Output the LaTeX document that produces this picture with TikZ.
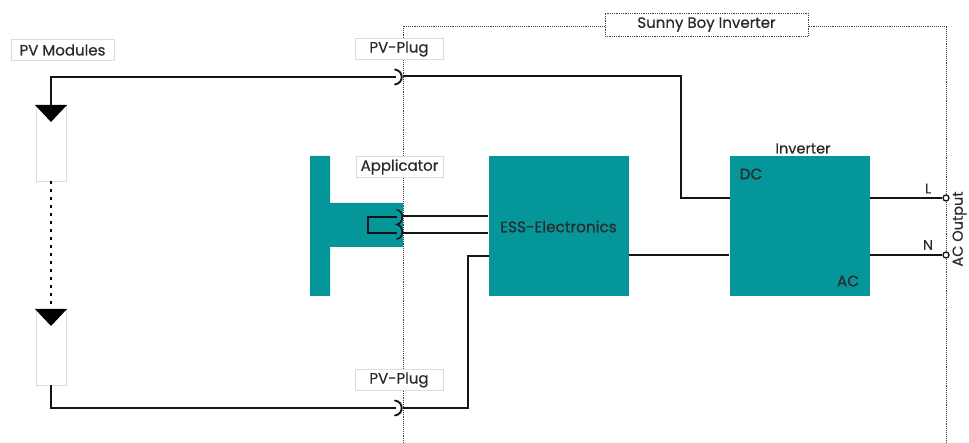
\documentclass[tikz,border=0pt]{standalone}
\usepackage{fontspec}
\setmainfont{Poppins}[RawFeature={embolden=0.5}]
\definecolor{teal1}{HTML}{05969A}
\definecolor{wire}{HTML}{151515}
\definecolor{lab}{HTML}{2A2A2A}
\definecolor{edge}{HTML}{DCDCDC}
\tikzset{
  x=1pt,y=-1pt,
  tag/.style={draw=edge,fill=white,line width=0.8pt,text=lab,inner sep=0pt,minimum height=21pt,font=\fontsize{15}{17}\selectfont},
  block/.style={fill=teal1,inner sep=0pt,text=lab,font=\fontsize{15.3}{17}\selectfont},
  plain/.style={inner sep=0pt,text=lab,font=\fontsize{14.5}{16}\selectfont},
  wireline/.style={draw=wire,line width=2pt},
  thinwire/.style={draw=wire,line width=1.7pt},
  boundary/.style={draw=black!75,line width=0.9pt,densely dotted},
  module/.style={draw=edge,fill=white,line width=0.8pt,inner sep=0pt,minimum width=30pt,minimum height=76pt},
  plugarc/.style={draw=wire,line width=1.9pt,line cap=round},
  term/.style={circle,draw=wire,fill=white,line width=1.3pt,inner sep=0pt,minimum size=6pt}
}
\begin{document}
\begin{tikzpicture}
\useasboundingbox (0,0) rectangle (969,443);
% enclosure boundary
\coordinate (bBL) at (403,443);
\coordinate (bTL) at (403,26);
\coordinate (bTR) at (946,26);
\coordinate (bBR) at (946,443);
% applicator body
\fill[teal1] (310,156) -- (330,156) -- (330,203) -- (403,203) -- (403,247) -- (330,247) -- (330,296) -- (310,296) -- cycle;
\draw[boundary] (bBL) -- (bTL) -- (bTR) -- (bBR);
\node[draw=black!75,densely dotted,line width=0.8pt,fill=white,inner sep=0pt,minimum width=203pt,minimum height=23pt,text=lab,font=\fontsize{15}{17}\selectfont] (sunny) at (706.5,24.5) {Sunny Boy Inverter};
% labels
\node[tag,minimum width=103pt] (pvm) at (62.5,50) {PV Modules};
\node[tag,minimum width=88pt] (plugT) at (399,49) {PV-Plug};
\node[tag,minimum width=88pt] (plugB) at (399,380) {PV-Plug};
\node[tag,minimum width=87pt] (appl) at (399.5,167) {Applicator};
% modules
\node[module] (m1) at (51,143) {};
\node[module] (m2) at (51,347) {};
\fill[black] (35,105) -- (67,105) -- (51,122) -- cycle;
\fill[black] (35,309) -- (67,309) -- (51,326) -- cycle;
\draw[draw=black,line width=2pt,dash pattern=on 3pt off 5pt] (m1.south) -- (m2.north);
% blocks
\node[block,minimum width=140pt,minimum height=140pt] (ess) at (558.5,226.5) {ESS-Electronics};
\node[block,minimum width=140pt,minimum height=140pt] (inv) at (799.5,226.5) {};
\node[plain] (invt) at (803,148.5) {Inverter};
\node[plain,font=\fontsize{15.3}{17}\selectfont] (dc) at (751,174) {DC};
\node[plain,font=\fontsize{15.3}{17}\selectfont] (ac) at (848,281) {AC};
% terminals
\node[term] (tL) at (946,198) {};
\node[term] (tN) at (946,255) {};
\node[plain,font=\fontsize{14}{16}\selectfont] (lL) at (928,188.5) {L};
\node[plain,font=\fontsize{14}{16}\selectfont] (lN) at (928,245) {N};
\node[plain,rotate=90,font=\fontsize{14.5}{16}\selectfont] (acout) at (959.5,229) {AC Output};
% wire waypoints
\coordinate (pTl) at (396,77);
\coordinate (pTr) at (403,76);
\coordinate (pBl) at (396,408);
\coordinate (pBr) at (403,408);
\coordinate (tri1) at (51,105);
\coordinate (a1) at (403,216);
\coordinate (a2) at (403,233);
\coordinate (invDC) at (730,198);
\coordinate (essIn) at (489,256);
% main wires
\draw[wireline] (tri1) |- (pTl);
\draw[wireline] (pTr) -| (681,198) -- (invDC);
\draw[wireline] (m2.south) |- (pBl);
\draw[wireline] (pBr) -| (468,256) -- (essIn);
\draw[wireline] (ess.east |- 0,255) -- (inv.west |- 0,255);
\draw[thinwire] (inv.east |- tL) -- (tL);
\draw[thinwire] (inv.east |- tN) -- (tN);
% plug arcs
\draw[plugarc] (395,69.5) .. controls (404,71) and (404,83) .. (395,84.5);
\draw[plugarc] (395,400.5) .. controls (404,402) and (404,414) .. (395,415.5);
% applicator connection
\draw[thinwire] (a1) -- (ess.west |- a1);
\draw[thinwire] (a2) -- (ess.west |- a2);
\draw[thinwire] (397,217) -- (368,217) -- (368,233) -- (397,233);
\draw[plugarc,line width=1.5pt] (397,210) .. controls (404,211) and (404,223) .. (397,224.5) .. controls (404,226) and (404,238) .. (397,239);
\end{tikzpicture}
\end{document}
